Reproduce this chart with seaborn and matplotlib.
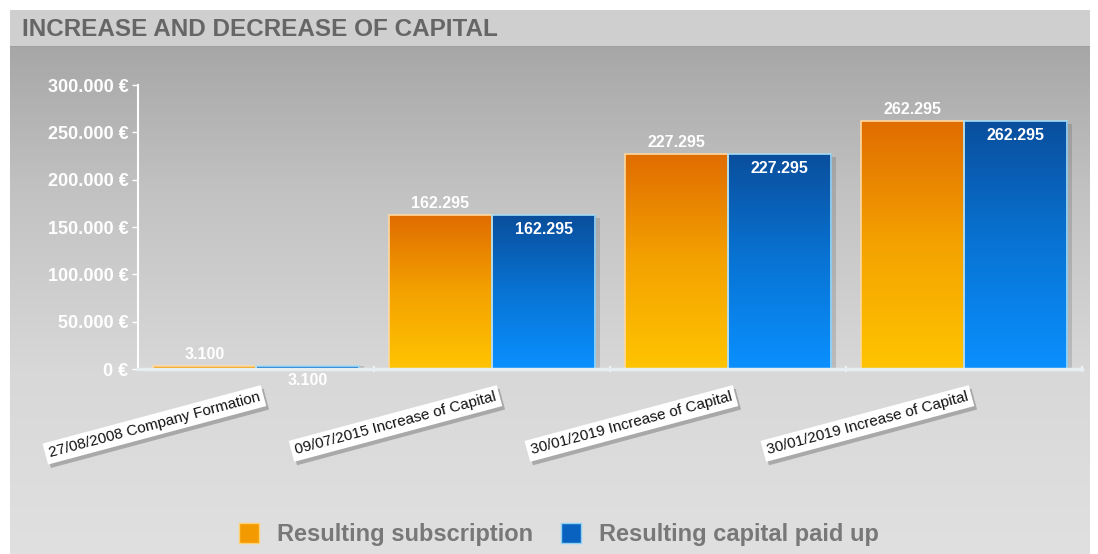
import numpy as np
import pandas as pd
import matplotlib
matplotlib.use("Agg")
import matplotlib.pyplot as plt
import matplotlib.patheffects as pe
import matplotlib.transforms as mtransforms
from matplotlib.colors import LinearSegmentedColormap
from matplotlib.patches import Rectangle
from matplotlib.lines import Line2D
import seaborn as sns

categories = ["27/08/2008 Company Formation", "09/07/2015 Increase of Capital",
              "30/01/2019 Increase of Capital", "30/01/2019 Increase of Capital "]
subscription = [3100, 162295, 227295, 262295]
paid_up = [3100, 162295, 227295, 262295]
series_names = ["Resulting subscription", "Resulting capital paid up"]
y_ticks = [0, 50000, 100000, 150000, 200000, 250000, 300000]

sns.set_theme(style="white")
plt.rcParams['font.family'] = ['Liberation Sans', 'DejaVu Sans']

df = pd.DataFrame({
    "category": categories * 2,
    "value": subscription + paid_up,
    "series": [series_names[0]] * 4 + [series_names[1]] * 4,
})

W, H = 1098, 554
fig = plt.figure(figsize=(W / 100, H / 100), dpi=100)
fig.patch.set_facecolor("white")

# background gradient panel
bg = fig.add_axes([10 / W, 0, 1080 / W, 1 - 10 / H], zorder=-5)
grad = np.linspace(0, 1, 256).reshape(-1, 1)
bg_cmap = LinearSegmentedColormap.from_list("bg", ["#a0a0a0", "#c2c2c2", "#d8d8d8", "#e0e0e0"])
bg.imshow(grad, aspect="auto", cmap=bg_cmap, extent=[0, 1, 0, 1], origin="upper")
bg.set_axis_off()
# header bar
hdr = fig.add_axes([10 / W, 1 - 47 / H, 1080 / W, 37 / H], zorder=-4)
hdr.set_facecolor("#cfcfcf")
hdr.set_xticks([]); hdr.set_yticks([])
for s in hdr.spines.values():
    s.set_visible(False)
hdr.axhline(0, color="#9a9a9a", lw=2)
fig.text(22 / W, 1 - 29 / H, "INCREASE AND DECREASE OF CAPITAL", fontsize=17.5,
         fontweight="bold", color="#666666", va="center", ha="left")

ax = fig.add_axes([138 / W, 1 - 369 / H, (1082 - 138) / W, (369 - 85) / H])
ax.set_facecolor("none")
sns.barplot(data=df, x="category", y="value", hue="series", ax=ax,
            palette=["#f09a00", "#0870d0"], width=0.875, gap=0, legend=False,
            edgecolor="none", saturation=1)

orange_cmap = LinearSegmentedColormap.from_list("o", ["#ffc400", "#f4a200", "#e06c00"])
blue_cmap = LinearSegmentedColormap.from_list("b", ["#0a90ff", "#0874d4", "#0a4e9c"])
bars = list(ax.patches)
n = len(categories)
for i, p in enumerate(bars):
    x, y, w, h = p.get_x(), p.get_y(), p.get_width(), p.get_height()
    cmap = orange_cmap if i < n else blue_cmap
    edge = "#ffd9a0" if i < n else "#a8dcf4"
    if i >= n:
        ax.add_patch(Rectangle((x + w * 0.05, y), w, h * 0.985, facecolor="#000000",
                               alpha=0.13, zorder=1, lw=0))
    im = ax.imshow(grad, aspect="auto", cmap=cmap.reversed(), extent=[x, x + w, y, y + h],
                   origin="upper", zorder=2)
    im.set_clip_path(p)
    p.set_zorder(2)
    ax.add_patch(Rectangle((x, y), w, h, facecolor="none", edgecolor=edge, lw=1.2, zorder=3))
    val = subscription[i] if i < n else paid_up[i - n]
    label = f"{val:,}".replace(",", ".")
    cx = x + w / 2
    if i < n:
        ax.annotate(label, (cx, y + h), xytext=(0, 3), textcoords="offset points",
                    ha="center", va="bottom", color="white", fontsize=11.5, fontweight="bold",
                    zorder=5)
    else:
        ax.annotate(label, (cx, y + h), xytext=(0, -5), textcoords="offset points",
                    ha="center", va="top", color="white", fontsize=11.5, fontweight="bold",
                    zorder=5)

ax.set_xlim(-0.5, n - 0.5)
ax.set_ylim(0, 300000)
ax.set_xlabel("")
ax.set_ylabel("")
ax.set_yticks(y_ticks)
ax.set_yticklabels([(f"{t:,}".replace(",", ".") + " €") if t else "0 €" for t in y_ticks],
                   color="white", fontsize=13, fontweight="bold")
ax.tick_params(axis="y", left=True, length=4, width=1, color="white", pad=3)
ax.set_xticks(np.arange(n))
ax.set_xticks(np.arange(n) + 0.5, minor=True)
ax.tick_params(axis="x", which="major", bottom=False, pad=9)
ax.tick_params(axis="x", which="minor", bottom=True, top=False, length=5, width=1.5,
               color="#eef3f6", direction="inout")
for s in ["top", "right"]:
    ax.spines[s].set_visible(False)
ax.spines["left"].set_color("white")
ax.spines["left"].set_linewidth(1.5)
ax.spines["bottom"].set_color("#e6eef2")
ax.spines["bottom"].set_linewidth(2.5)
ax.spines["bottom"].set_zorder(4)

labels = ax.set_xticklabels([c.strip() for c in categories], rotation=15, ha="right",
                            rotation_mode="anchor", fontsize=11, color="#111111")
offset = mtransforms.ScaledTranslation(2 / 100, 0, fig.dpi_scale_trans)
for t in labels:
    t.set_transform(t.get_transform() + offset)
    t.set_bbox(dict(boxstyle="square,pad=0.25", fc="white", ec="none"))
    t.get_bbox_patch().set_path_effects([pe.SimplePatchShadow(offset=(2, -2.5), alpha=0.35),
                                         pe.Normal()])

# legend
handles = [Line2D([], [], marker="s", ls="none", markersize=14, markerfacecolor="#f29a00",
                  markeredgecolor="#ffd070"),
           Line2D([], [], marker="s", ls="none", markersize=14, markerfacecolor="#0a62c0",
                  markeredgecolor="#8fd0f5")]
leg = fig.legend(handles, series_names, loc="center", bbox_to_anchor=(558 / W, 1 - 535 / H),
                 ncol=2, frameon=False, fontsize=17, handlelength=1.0, handletextpad=0.7,
                 columnspacing=1.1)
for t in leg.get_texts():
    t.set_color("#787878")
    t.set_fontweight("bold")

fig.savefig("out.png", dpi=100)
